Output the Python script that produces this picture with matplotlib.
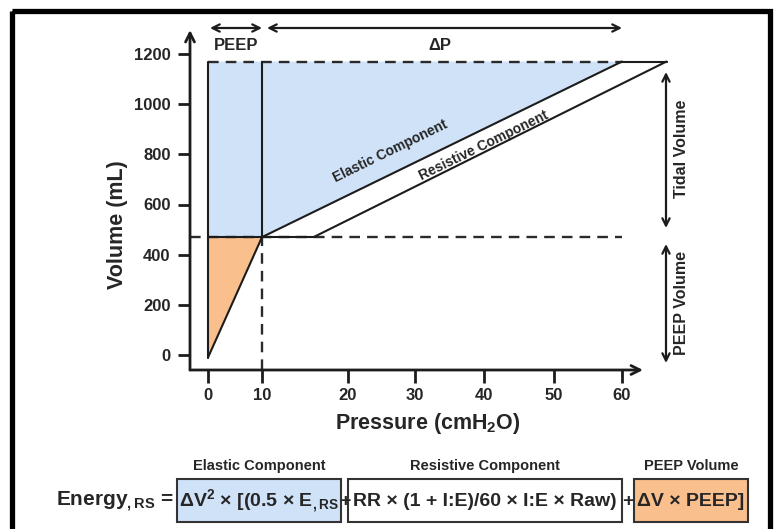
import numpy as np
import matplotlib
matplotlib.use("Agg")
import matplotlib.pyplot as plt
from matplotlib.patches import Rectangle

plt.rcParams['font.family'] = ['Liberation Sans', 'DejaVu Sans']
plt.rcParams['font.weight'] = 'bold'
plt.rcParams['axes.labelweight'] = 'bold'
plt.rcParams['mathtext.fontset'] = 'custom'
plt.rcParams['mathtext.rm'] = 'Liberation Sans:bold'
plt.rcParams['mathtext.bf'] = 'Liberation Sans:bold'
plt.rcParams['mathtext.it'] = 'Liberation Sans:bold'
plt.rcParams['mathtext.default'] = 'bf'

# ---------------- data ----------------
pressure_ticks = [0, 10, 20, 30, 40, 50, 60]
volume_ticks = [0, 200, 400, 600, 800, 1000, 1200]
peep = 10                      # cmH2O
start_volume = -10             # mL (origin of PEEP limb)
peep_volume = 470              # mL
end_volume = 1170              # mL
elastic_end_pressure = 60      # cmH2O
resistive_start_pressure = 16  # cmH2O
resistive_end_pressure = 66.5  # cmH2O

# ---------------- layout ----------------
W, H = 779, 529
TXT = '#262626'
LINE = '#1c1c1c'
BLUE = '#cfe2f8'
ORANGE = '#f9bf8d'

# the diagram uses uneven spacing of the pressure axis: knots (value -> px)
knot_p = [-10, 0, 10, 20, 30, 40, 50, 60, 80]
knot_x = [154, 208, 262, 348, 415, 484, 554, 622, 759]
fwd = lambda p: np.interp(p, knot_p, knot_x)
inv = lambda x: np.interp(x, knot_x, knot_p)

fig = plt.figure(figsize=(W / 100, H / 100), dpi=100)
fig.patch.set_facecolor('white')

ax_l, ax_r, ax_t, ax_b = 190, 643, 30, 370
ax = fig.add_axes([ax_l / W, 1 - ax_b / H, (ax_r - ax_l) / W, (ax_b - ax_t) / H])
ax.set_xscale('function', functions=(fwd, inv))
ax.set_xlim(float(inv(ax_l)), float(inv(ax_r)))
# volume: 0 -> 355px, 1200 -> 54px
vpx = 301 / 1200
ax.set_ylim(-(ax_b - 355) / vpx, (355 - ax_t) / vpx)
ax.patch.set_alpha(0)
for s in ax.spines.values():
    s.set_visible(False)

ax.set_xticks(pressure_ticks)
ax.set_xticklabels([str(t) for t in pressure_ticks])
ax.set_yticks(volume_ticks)
ax.set_yticklabels([str(t) for t in volume_ticks])
ax.tick_params(axis='both', length=9, width=2, color=LINE, labelcolor=TXT,
               labelsize=12)
ax.tick_params(axis='y', pad=5)
ax.tick_params(axis='x', pad=4)
ax.minorticks_off()

# axes arrows
arrow_kw = dict(arrowstyle='->', lw=2, color=LINE, shrinkA=0, shrinkB=0,
                mutation_scale=16)
ax.annotate('', xy=(0, 1), xytext=(0, 0), xycoords='axes fraction',
            arrowprops=arrow_kw, annotation_clip=False)
ax.annotate('', xy=(1, 0), xytext=(0, 0), xycoords='axes fraction',
            arrowprops=arrow_kw, annotation_clip=False)

ax.set_ylabel('Volume (mL)', fontsize=15.5, color=TXT, va='center')
ax.yaxis.set_label_coords((117 - ax_l) / (ax_r - ax_l), (ax_b - 225) / (ax_b - ax_t))
ax.set_xlabel('Pressure (cmH$_2$O)', fontsize=15.5, color=TXT, va='center')
ax.xaxis.set_label_coords((428 - ax_l) / (ax_r - ax_l), (ax_b - 424) / (ax_b - ax_t))

# filled regions
ax.fill([0, 0, elastic_end_pressure, peep],
        [peep_volume, end_volume, end_volume, peep_volume],
        color=BLUE, lw=0, zorder=1)
ax.fill([0, 0, peep], [start_volume, peep_volume, peep_volume],
        color=ORANGE, lw=0, zorder=1)

lw = 1.5
skw = dict(color=LINE, lw=lw, zorder=3, clip_on=False, solid_capstyle='round')
ax.plot([0, 0], [start_volume, end_volume], **skw)
ax.plot([0, peep], [start_volume, peep_volume], **skw)
ax.plot([peep, peep], [peep_volume, end_volume], **skw)
ax.plot([peep, elastic_end_pressure], [peep_volume, end_volume], **skw)
ax.plot([resistive_start_pressure, resistive_end_pressure], [peep_volume, end_volume], **skw)
ax.plot([elastic_end_pressure, resistive_end_pressure], [end_volume, end_volume], **skw)
ax.plot([0, resistive_start_pressure], [peep_volume, peep_volume], **skw)

# dashed lines
dkw = dict(color='#2a2a2a', lw=1.7, dashes=(4.5, 3), zorder=2, clip_on=False)
ax.plot([ax.get_xlim()[0], elastic_end_pressure], [peep_volume, peep_volume], **dkw)
ax.plot([0, elastic_end_pressure], [end_volume, end_volume], **dkw)
ax.plot([peep, peep], [ax.get_ylim()[0], peep_volume], **dkw)

# ---------------- overlay (pixel coordinates) ----------------
ov = fig.add_axes([0, 0, 1, 1], zorder=5)
ov.set_xlim(0, W)
ov.set_ylim(H, 0)
ov.axis('off')
ov.patch.set_alpha(0)

# frame
ov.add_patch(Rectangle((12.5, 10.5), 758, 560, fill=False, lw=3.8, ec='black'))

akw = dict(arrowstyle='<->', lw=1.6, color=LINE, shrinkA=0, shrinkB=0, mutation_scale=13)
ov.annotate('', xy=(210, 28), xytext=(262, 28), arrowprops=akw)
ov.annotate('', xy=(267, 28), xytext=(622, 28), arrowprops=akw)
ov.text(236, 46, 'PEEP', fontsize=12, ha='center', va='center', color=TXT)
ov.text(440, 46, '\u0394P', fontsize=12, ha='center', va='center', color=TXT)

ov.annotate('', xy=(666, 72), xytext=(666, 228), arrowprops=akw)
ov.annotate('', xy=(666, 244), xytext=(666, 363), arrowprops=akw)
ov.text(682, 149, 'Tidal Volume', fontsize=11.5, rotation=90, ha='center', va='center', color=TXT)
ov.text(682, 303, 'PEEP Volume', fontsize=11.5, rotation=90, ha='center', va='center', color=TXT)

ov.text(390, 151, 'Elastic Component', fontsize=10, rotation=26, ha='center', va='center',
        rotation_mode='anchor', color=TXT)
ov.text(484, 146, 'Resistive Component', fontsize=10, rotation=26, ha='center', va='center',
        rotation_mode='anchor', color=TXT)

# formula
yb0, yb1 = 479, 522
ymid = (yb0 + yb1) / 2 + 1
ov.add_patch(Rectangle((177, yb0), 164, yb1 - yb0, fc=BLUE, ec='#333333', lw=1.5))
ov.add_patch(Rectangle((348, yb0), 274, yb1 - yb0, fc='white', ec='#333333', lw=1.5))
ov.add_patch(Rectangle((634, yb0), 114, yb1 - yb0, fc=ORANGE, ec='#333333', lw=1.5))

ov.text(259, 466, 'Elastic Component', fontsize=10.5, ha='center', va='center', color=TXT)
ov.text(485, 466, 'Resistive Component', fontsize=10.5, ha='center', va='center', color=TXT)
ov.text(691, 466, 'PEEP Volume', fontsize=10.5, ha='center', va='center', color=TXT)

fs = 14
ov.text(174, ymid, 'Energy$_{,RS}$ =', fontsize=15, ha='right', va='center', color=TXT)
ov.text(259, ymid, '\u0394V$^2$ \u00d7 [(0.5 \u00d7 E$_{,RS}$', fontsize=fs, ha='center',
        va='center', color=TXT)
ov.text(344.5, ymid, '+', fontsize=fs, ha='center', va='center', color=TXT)
ov.text(485, ymid, 'RR \u00d7 (1 + I:E)/60 \u00d7 I:E \u00d7 Raw)', fontsize=fs, ha='center',
        va='center', color=TXT)
ov.text(628, ymid, '+', fontsize=fs, ha='center', va='center', color=TXT)
ov.text(691, ymid, '\u0394V \u00d7 PEEP]', fontsize=fs, ha='center', va='center', color=TXT)

fig.savefig('out.png', dpi=100, facecolor='white')
